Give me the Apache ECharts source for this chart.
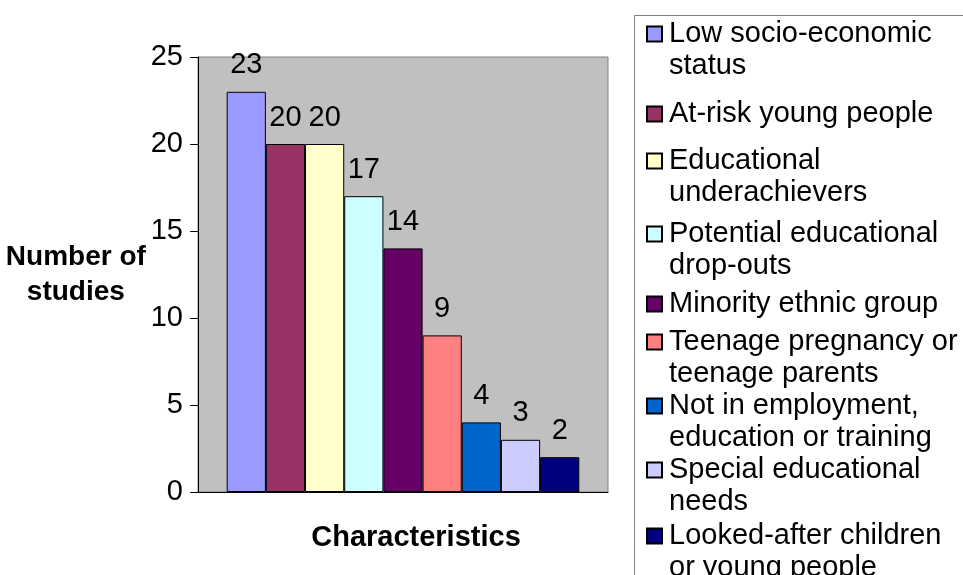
<!DOCTYPE html>
<html>
<head>
<meta charset="utf-8">
<script src="https://cdn.jsdelivr.net/npm/echarts@6/dist/echarts.min.js"></script>
<style>
  html, body { margin: 0; padding: 0; background: #fff; }
  #chart { width: 963px; height: 575px; }
</style>
</head>
<body>
<div id="chart"></div>
<script>
  // series names (legend text, wrapped like the original)
  var seriesNames = [
    'Low socio-economic\nstatus',
    'At-risk young people',
    'Educational\nunderachievers',
    'Potential educational\ndrop-outs',
    'Minority ethnic group',
    'Teenage pregnancy or\nteenage parents',
    'Not in employment,\neducation or training',
    'Special educational\nneeds',
    'Looked-after children\nor young people'
  ]
  var studyCounts = [23, 20, 20, 17, 14, 9, 4, 3, 2]
  var yTicks = [0, 5, 10, 15, 20, 25]

  var barColors = ['#9999ff', '#993366', '#ffffcc', '#ccffff', '#660066', '#ff8080', '#0066cc', '#ccccff', '#000080']
  // y position (px) of first text line of each legend entry
  var legendRows = [34, 114, 161, 234, 304, 342, 406, 470, 536]

  var font = "'Liberation Sans', Arial, sans-serif"
  var chart = echarts.init(document.getElementById('chart'))

  var series = seriesNames.map(function (name, i) {
    return {
      name: name,
      type: 'bar',
      data: [studyCounts[i]],
      barGap: '0%',
      barCategoryGap: '14%',
      itemStyle: {
        color: barColors[i],
        borderColor: '#000',
        borderWidth: 1
      },
      label: {
        show: true,
        position: 'top',
        distance: 12,
        color: '#000',
        fontSize: 29,
        fontFamily: font
      },
      animation: false
    }
  })

  // one legend per entry so the square sits next to the first line
  var legends = seriesNames.map(function (name, i) {
    var extraLines = name.split('\n').length - 1
    return {
      left: 646,
      top: legendRows[i] - 16 - extraLines * 32,
      padding: 0,
      icon: 'rect',
      itemWidth: 15,
      itemHeight: 15,
      selectedMode: false,
      formatter: function (n) {
        // blank lines on top keep the icon level with line one
        return new Array(extraLines + 1).join('\n') + n
      },
      textStyle: {
        color: '#000',
        fontSize: 29,
        lineHeight: 32,
        fontFamily: font,
        padding: [0, 0, 0, 2]
      },
      data: [name]
    }
  })

  chart.setOption({
    backgroundColor: '#fff',
    grid: {
      left: 198,
      top: 57,
      width: 410,
      height: 435,
      show: true,
      backgroundColor: '#c0c0c0',
      borderColor: '#808080',
      borderWidth: 1
    },
    legend: legends,
    graphic: [{
      type: 'rect',
      shape: { x: 634.5, y: 15.5, width: 400, height: 600 },
      style: { fill: 'none', stroke: '#808080', lineWidth: 1 },
      z: -1
    }],
    xAxis: {
      type: 'category',
      data: [''],
      name: 'Characteristics',
      nameLocation: 'middle',
      nameGap: 31,
      nameTextStyle: {
        color: '#000',
        fontSize: 29,
        fontWeight: 'bold',
        fontFamily: font,
        padding: [0, 0, 0, 26]
      },
      axisLine: { lineStyle: { color: '#000', width: 1 } },
      axisTick: { show: false },
      axisLabel: { show: false }
    },
    yAxis: {
      type: 'value',
      min: yTicks[0],
      max: yTicks[yTicks.length - 1],
      interval: yTicks[1] - yTicks[0],
      name: 'Number of\nstudies',
      nameLocation: 'middle',
      nameRotate: 0,
      nameGap: 106,
      nameTextStyle: {
        color: '#000',
        fontSize: 28,
        fontWeight: 'bold',
        fontFamily: font,
        lineHeight: 35,
        align: 'center'
      },
      axisLine: { show: true, lineStyle: { color: '#000', width: 1 } },
      axisTick: { show: true, length: 8, lineStyle: { color: '#000' } },
      axisLabel: {
        color: '#000',
        fontSize: 29,
        fontFamily: font,
        margin: 15
      },
      splitLine: { show: false }
    },
    series: series
  })
</script>
</body>
</html>
